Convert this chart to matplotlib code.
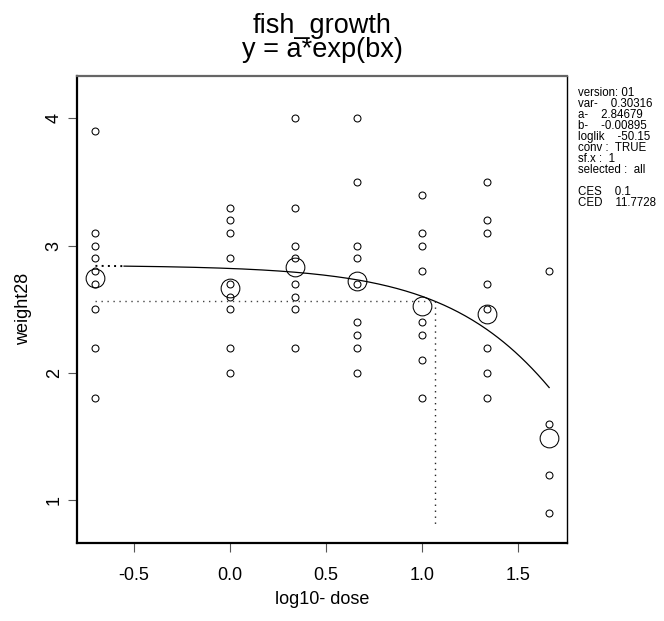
import numpy as np
import matplotlib
matplotlib.use("Agg")
import matplotlib.pyplot as plt

plt.rcParams['font.family'] = ['Liberation Sans', 'DejaVu Sans']

# log10 of the dose groups (control shown at log10(0.2))
log_dose = [-0.699, 0.0, 0.342, 0.663, 1.0, 1.342, 1.663]

# individual observations of weight28 per dose group
weights = [
    [3.9, 3.1, 3.0, 2.9, 2.8, 2.7, 2.5, 2.2, 1.8],
    [3.3, 3.2, 3.1, 2.9, 2.7, 2.6, 2.5, 2.2, 2.0],
    [4.0, 3.3, 3.0, 2.9, 2.7, 2.6, 2.5, 2.2],
    [4.0, 3.5, 3.0, 2.9, 2.7, 2.4, 2.3, 2.2, 2.0],
    [3.4, 3.1, 3.0, 2.8, 2.4, 2.3, 2.1, 1.8],
    [3.5, 3.2, 3.1, 2.7, 2.5, 2.2, 2.0, 1.8],
    [2.8, 1.6, 1.2, 0.9],
]

# group (geometric) means
group_means = [2.75, 2.67, 2.835, 2.72, 2.53, 2.46, 1.49]

# fitted model y = a*exp(b*dose)
par_a = 2.84679
par_b = -0.00895
ces = 0.1
ced = 11.7728
solid_start = -0.55

info_lines = [
    "version: 01",
    "var-    0.30316",
    "a-    2.84679",
    "b-    -0.00895",
    "loglik    -50.15",
    "conv :  TRUE",
    "sf.x :  1",
    "selected :  all",
    "",
    "CES    0.1",
    "CED    11.7728",
]

x_ticks = [-0.5, 0.0, 0.5, 1.0, 1.5]
x_tick_labels = ["-0.5", "0.0", "0.5", "1.0", "1.5"]
y_ticks = [1, 2, 3, 4]
y_tick_labels = ["1", "2", "3", "4"]

W, H = 664, 621
fig = plt.figure(figsize=(W / 100, H / 100), dpi=100)
ax = fig.add_axes([77.3 / W, 1 - 543 / H, (567.3 - 77.3) / W, (543 - 75.7) / H])

# observations
for xd, ws in zip(log_dose, weights):
    ax.plot([xd] * len(ws), ws, linestyle='none', marker='o', markersize=5,
            markerfacecolor='none', markeredgecolor='black', markeredgewidth=0.75)

# group means
ax.plot(log_dose, group_means, linestyle='none', marker='o', markersize=13.5,
        markerfacecolor='none', markeredgecolor='black', markeredgewidth=0.75)


def model(lx):
    return par_a * np.exp(par_b * 10 ** np.asarray(lx))


xs = np.linspace(solid_start, log_dose[-1], 300)
ax.plot(xs, model(xs), color='black', lw=0.9)
xd0 = np.linspace(log_dose[0], solid_start, 20)
ax.plot(xd0, model(xd0), color='black', lw=1.4, dashes=(1, 2.2))

# critical effect size / dose
ymin_data = min(min(w) for w in weights) - 0.1
ymax_data = max(max(w) for w in weights) + 0.2
ces_level = par_a * (1 - ces)
log_ced = np.log10(ced)
ax.plot([log_dose[0], log_ced], [ces_level, ces_level], color='#444444', lw=1.0,
        dashes=(1, 3.3))
ax.plot([log_ced, log_ced], [ces_level, ymin_data], color='#222222', lw=1.0,
        dashes=(1, 3.3))

xr = log_dose[-1] - log_dose[0]
yr = ymax_data - ymin_data
ax.set_xlim(log_dose[0] - 0.04 * xr, log_dose[-1] + 0.04 * xr)
ax.set_ylim(ymin_data - 0.04 * yr, ymax_data + 0.04 * yr)

ax.set_xticks(x_ticks)
ax.set_xticklabels(x_tick_labels)
ax.set_yticks(y_ticks)
ax.set_yticklabels(y_tick_labels, rotation=90, va='center')
ax.tick_params(axis='both', direction='out', length=6.5, width=0.8, color='#555555',
               labelsize=13)
ax.tick_params(axis='x', pad=11)
ax.tick_params(axis='y', pad=4)

for side in ('left', 'bottom'):
    ax.spines[side].set_linewidth(1.6)
    ax.spines[side].set_color('black')
ax.spines['top'].set_linewidth(1.6)
ax.spines['top'].set_color('#666666')
ax.spines['right'].set_linewidth(1.0)
ax.spines['right'].set_color('black')

ax.set_xlabel("log10- dose", fontsize=13, labelpad=5)
ax.set_ylabel("weight28", fontsize=13, labelpad=10)

cx = (77.3 + 567.3) / 2 / W
fig.text(cx, 1 - 33 / H, "fish_growth", ha='center', va='baseline', fontsize=19.5)
fig.text(cx, 1 - 57 / H, "y = a*exp(bx)", ha='center', va='baseline', fontsize=19.5)

for i, line in enumerate(info_lines):
    fig.text(577.7 / W, 1 - (93.3 + 11 * i) / H, line, ha='left', va='center',
             fontsize=8.3)

fig.savefig("out.png", dpi=100)
